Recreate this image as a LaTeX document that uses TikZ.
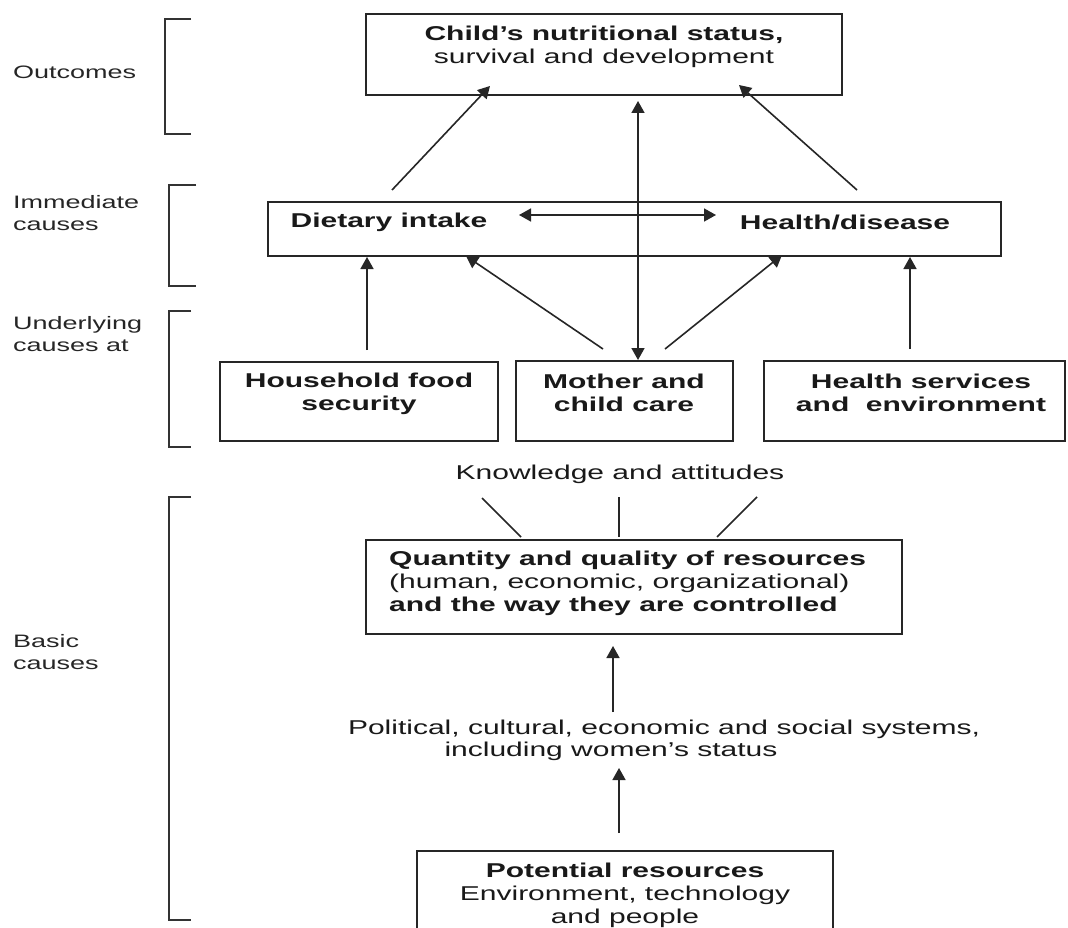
\documentclass[tikz,border=0pt]{standalone}
\usepackage{fontspec}
\setmainfont{Liberation Sans}[FakeStretch=1.5]
\usetikzlibrary{arrows.meta,calc}
\begin{document}
\begin{tikzpicture}[x=1pt,y=-1pt,
  box/.style={draw=black!85, line width=2pt, inner sep=0pt},
  txt/.style={inner sep=0pt, align=center, text=black!90, font=\fontsize{20}{23}\selectfont},
  lbl/.style={inner sep=0pt, align=left, anchor=west, text=black!85, font=\fontsize{18}{22}\selectfont},
  arr/.style={line width=1.6pt, draw=black!85, -{Triangle[length=12pt,width=13pt]}},
  darr/.style={line width=1.6pt, draw=black!85, {Triangle[length=12pt,width=13pt]}-{Triangle[length=12pt,width=13pt]}},
  ln/.style={line width=1.6pt, draw=black!85},
  brk/.style={line width=2pt, draw=black!80}]
\useasboundingbox (0,0) rectangle (1068,928);
\fill[white] (0,0) rectangle (1068,928);

% boxes
\node[box, minimum width=476pt, minimum height=80.5pt] (nut) at (604,54.75) {};
\node[box, minimum width=733pt, minimum height=54pt] (dh) at (634.5,229) {};
\node[box, minimum width=278pt, minimum height=79pt] (hfs) at (359,401.5) {};
\node[box, minimum width=217pt, minimum height=80pt] (mcc) at (624.5,401) {};
\node[box, minimum width=301pt, minimum height=80pt] (hse) at (914.5,401) {};
\node[box, minimum width=536pt, minimum height=94pt] (qty) at (634,587) {};
\node[box, minimum width=416pt, minimum height=109pt] (pot) at (625,905.5) {};

% texts
\node[txt] (nutT) at (604,46.5) {\textbf{Child’s nutritional status,}\\survival and development};
\node[txt] (dietT) at (389,222) {\textbf{Dietary intake}};
\node[txt] (healthT) at (845,222) {\textbf{Health/disease}};
\node[txt] (hfsT) at (359,394) {\textbf{Household food}\\\textbf{security}};
\node[txt] (mccT) at (624,393) {\textbf{Mother and}\\\textbf{child care}};
\node[txt] (hseT) at (921,393) {\textbf{Health services}\\\textbf{and\ \ environment}};
\node[txt] (knowT) at (620,474) {Knowledge and attitudes};
\node[txt, align=left, anchor=west] (qtyT) at (389,583) {\textbf{Quantity and quality of resources}\\(human, economic, organizational)\\\textbf{and the way they are controlled}};
\node[txt] (pol1) at (664,729) {Political, cultural, economic and social systems,};
\node[txt] (pol2) at (611,751) {including women’s status};
\node[txt] (potT) at (625,895) {\textbf{Potential resources}\\Environment, technology\\and people};

% side labels
\node[lbl] (outL) at (13,72) {Outcomes};
\node[lbl] (immL) at (13,213) {Immediate\\causes};
\node[lbl] (undL) at (13,334) {Underlying\\causes at};
\node[lbl] (basL) at (13,652) {Basic\\causes};

% brackets
\draw[brk] (191,19) -- (165,19) -- (165,134) -- (191,134);
\draw[brk] (196,185) -- (169,185) -- (169,286) -- (196,286);
\draw[brk] (191,311) -- (169,311) -- (169,447) -- (191,447);
\draw[brk] (191,497) -- (169,497) -- (169,920) -- (191,920);

% connectors
\draw[arr] ($(dh.north west)+(125,-11)$) -- ($(nut.south west)+(125,-10)$);
\draw[arr] ($(dh.north west)+(590,-11)$) -- ($(nut.south west)+(374,-11)$);
\draw[darr] ($(mcc.north west)+(123,0)$) -- ($(nut.south west)+(273,5)$);
\draw[darr] ($(dh.north west)+(252,14)$) -- ($(dh.north west)+(449,14)$);
\draw[arr] ($(hfs.north west)+(148,-11)$) -- ($(dh.south west)+(100,0)$);
\draw[arr] ($(mcc.north west)+(88,-11)$) -- ($(dh.south west)+(199,-1)$);
\draw[arr] ($(mcc.north west)+(150,-11)$) -- ($(dh.south west)+(515,-2)$);
\draw[arr] ($(hse.north west)+(147,-11)$) -- ($(dh.south west)+(643,0)$);
\draw[ln] ($(qty.north west)+(117,-41)$) -- ($(qty.north west)+(156,-2)$);
\draw[ln] ($(qty.north west)+(254,-42)$) -- ($(qty.north west)+(254,-2)$);
\draw[ln] ($(qty.north west)+(392,-42)$) -- ($(qty.north west)+(352,-2)$);
\draw[arr] ($(qty.south west)+(248,77)$) -- ($(qty.south west)+(248,11)$);
\draw[arr] ($(pot.north west)+(203,-17)$) -- ($(pot.north west)+(203,-82)$);
\end{tikzpicture}
\end{document}
